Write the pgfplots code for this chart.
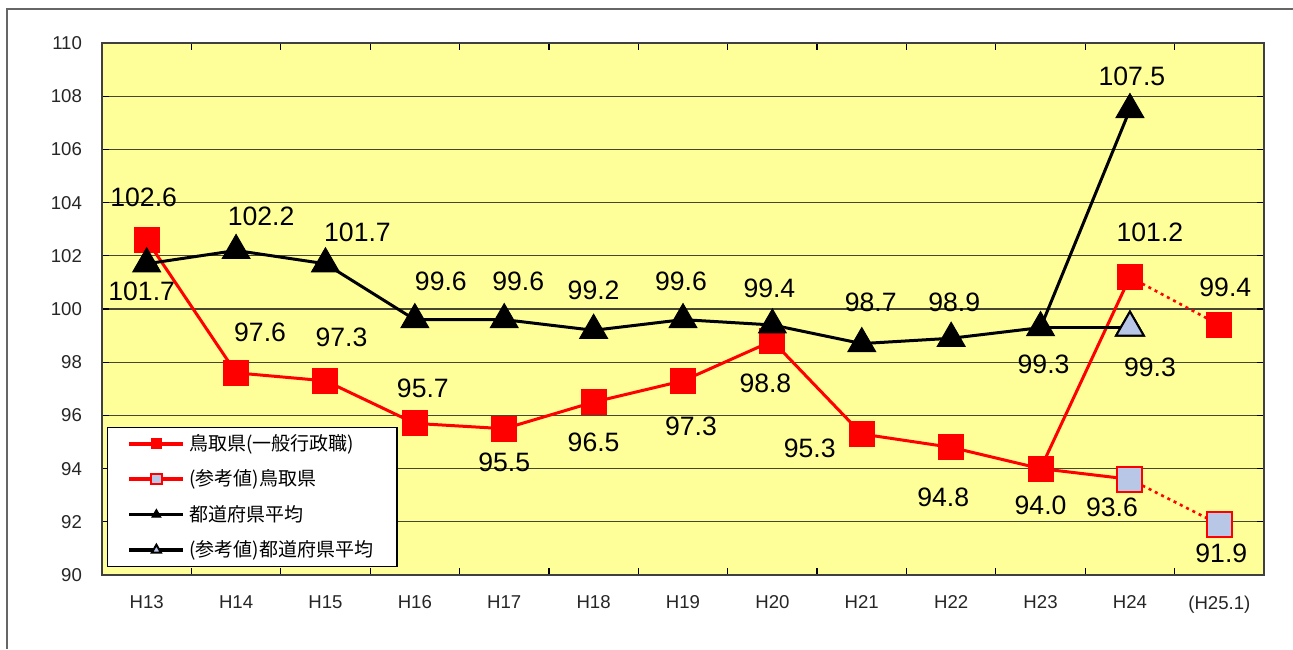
\documentclass[border=0pt]{standalone}
\usepackage{pgfplots}
\usepackage{pgfplotstable}
\pgfplotsset{compat=1.18}
\usepackage{fontspec}
\setmainfont{Liberation Sans}
\newfontfamily\jp{Noto Sans CJK JP}
\definecolor{bgy}{RGB}{255,255,153}
\definecolor{refblue}{RGB}{184,199,230}
\definecolor{gridc}{RGB}{70,70,50}

\pgfplotstableread{
x y lab dx dy
0 102.6 102.6 -1.5 21.5
1 97.6 97.6 12 20.5
2 97.3 97.3 8 21.5
3 95.7 95.7 4 17.5
4 95.5 95.5 0 -17
5 96.5 96.5 0 -20
6 97.3 97.3 4 -23
7 98.8 98.8 -3.5 -21
8 95.3 95.3 -26 -7
9 94.8 94.8 -4 -25
10 94.0 94.0 0 -18.5
11 101.2 101.2 10 22.5
}\redA

\pgfplotstableread{
x y lab dx dy
12 99.4 99.4 3 19
}\redAext

\pgfplotstableread{
x y lab dx dy
11 93.6 93.6 -9 -14
12 91.9 91.9 1 -14.5
}\redB

\pgfplotstableread{
x y lab dx dy
0 101.7 101.7 -2.5 -14
1 102.2 102.2 12.5 17
2 101.7 101.7 16 15.5
3 99.6 99.6 13 19
4 99.6 99.6 7 19
5 99.2 99.2 0 20
6 99.6 99.6 -1 19
7 99.4 99.4 -1.5 18.5
8 98.7 98.7 4.5 20.5
9 98.9 98.9 1.5 18
10 99.3 99.3 1.5 -18.5
11 107.5 107.5 1 16.5
}\blkC

\pgfplotstableread{
x y lab dx dy
11 99.3 99.3 10 -20
}\blkD

\pgfplotsset{
  lbl/.style={nodes near coords, point meta=explicit symbolic,
    visualization depends on={\thisrow{dx}\as\mydx},
    visualization depends on={\thisrow{dy}\as\mydy},
    nodes near coords style={anchor=center, text=black,
      font=\fontsize{13.3}{15}\selectfont, xshift=\mydx pt, yshift=\mydy pt}},
}

\begin{document}
\begin{tikzpicture}
\useasboundingbox (0,0) rectangle (646.5pt,324.5pt);
\draw[black!60, line width=1pt] (3.5pt,0) -- (3.5pt,320pt) -- (646.5pt,320pt);
\begin{axis}[
  at={(51pt,37pt)}, anchor=south west,
  scale only axis, width=581pt, height=266pt,
  xmin=-0.5, xmax=12.5, ymin=90, ymax=110,
  xtick={0.5,1.5,...,11.5},
  xticklabels={},
  extra x ticks={0,1,...,12},
  extra x tick labels={H13,H14,H15,H16,H17,H18,H19,H20,H21,H22,H23,H24,(H25.1)},
  extra x tick style={major tick length=0pt},
  ytick={90,92,...,110},
  ymajorgrids, major grid style={gridc, line width=0.6pt},
  tick align=inside,
  major tick length=3.5pt,
  tick style={black, line width=0.6pt},
  axis background/.style={fill=bgy},
  axis line style={black!75, line width=1pt},
  /pgf/number format/assume math mode=true,
  tick label style={font=\fontsize{9.3}{10}\selectfont, text=black!85},
  x tick label style={yshift=-6.75pt},
  y tick label style={xshift=-6.5pt},
  clip=false,
  legend style={at={(0.0043,0.015)}, anchor=south west, draw=black, line width=0.6pt,
    fill=white, font=\jp\fontsize{9.5}{11}\selectfont, row sep=4.2pt,
    inner xsep=10pt, inner ysep=1.5pt},
  legend cell align=left,
  legend image code/.code={\draw[mark repeat=2, mark phase=2, mark size=2.6pt, line width=1.8pt]
    plot coordinates {(0pt,0pt)(13.5pt,0pt)(27pt,0pt)};},
]
% dotted extensions
\addplot[forget plot, red, line width=1.3pt, dash pattern=on 1.5pt off 2pt] coordinates {(11,101.2)(12,99.4)};
\addplot[forget plot, red, line width=1.3pt, dash pattern=on 1.5pt off 2pt] coordinates {(11,93.6)(12,91.9)};
% A
\addplot[red, line width=1.5pt, mark=square*, mark size=6.25pt,
  mark options={fill=red, draw=red, line width=0.5pt, solid}, lbl]
  table[x=x, y=y, meta=lab]{\redA};
\addlegendentry{鳥取県(一般行政職)}
\addplot[forget plot, only marks, red, mark=square*, mark size=6.25pt,
  mark options={fill=red, draw=red, line width=0.5pt}, lbl]
  table[x=x, y=y, meta=lab]{\redAext};
% B
\addplot[red, line width=1.5pt, mark=square*, mark size=6.25pt, mark indices={2},
  mark options={fill=refblue, draw=red, line width=1pt, solid}]
  coordinates {(10,94.0)(11,93.6)};
\addlegendentry{(参考値)鳥取県}
\addplot[forget plot, only marks, mark=square*, mark size=6.25pt,
  mark options={fill=refblue, draw=red, line width=1pt}, lbl]
  table[x=x, y=y, meta=lab]{\redB};
% C
\addplot[black, line width=1.5pt, mark=triangle*, mark size=8pt,
  mark options={fill=black, draw=black, line width=0.5pt, solid}, lbl]
  table[x=x, y=y, meta=lab]{\blkC};
\addlegendentry{都道府県平均}
% D
\addplot[black, line width=1.5pt, mark=triangle*, mark size=8pt, mark indices={2},
  mark options={fill=refblue, draw=black, line width=1pt, solid}]
  coordinates {(10,99.3)(11,99.3)};
\addlegendentry{(参考値)都道府県平均}
\addplot[forget plot, only marks, mark=triangle*, mark size=8pt,
  mark options={fill=refblue, draw=black, line width=1pt}, lbl]
  table[x=x, y=y, meta=lab]{\blkD};
\end{axis}
\end{tikzpicture}
\end{document}
